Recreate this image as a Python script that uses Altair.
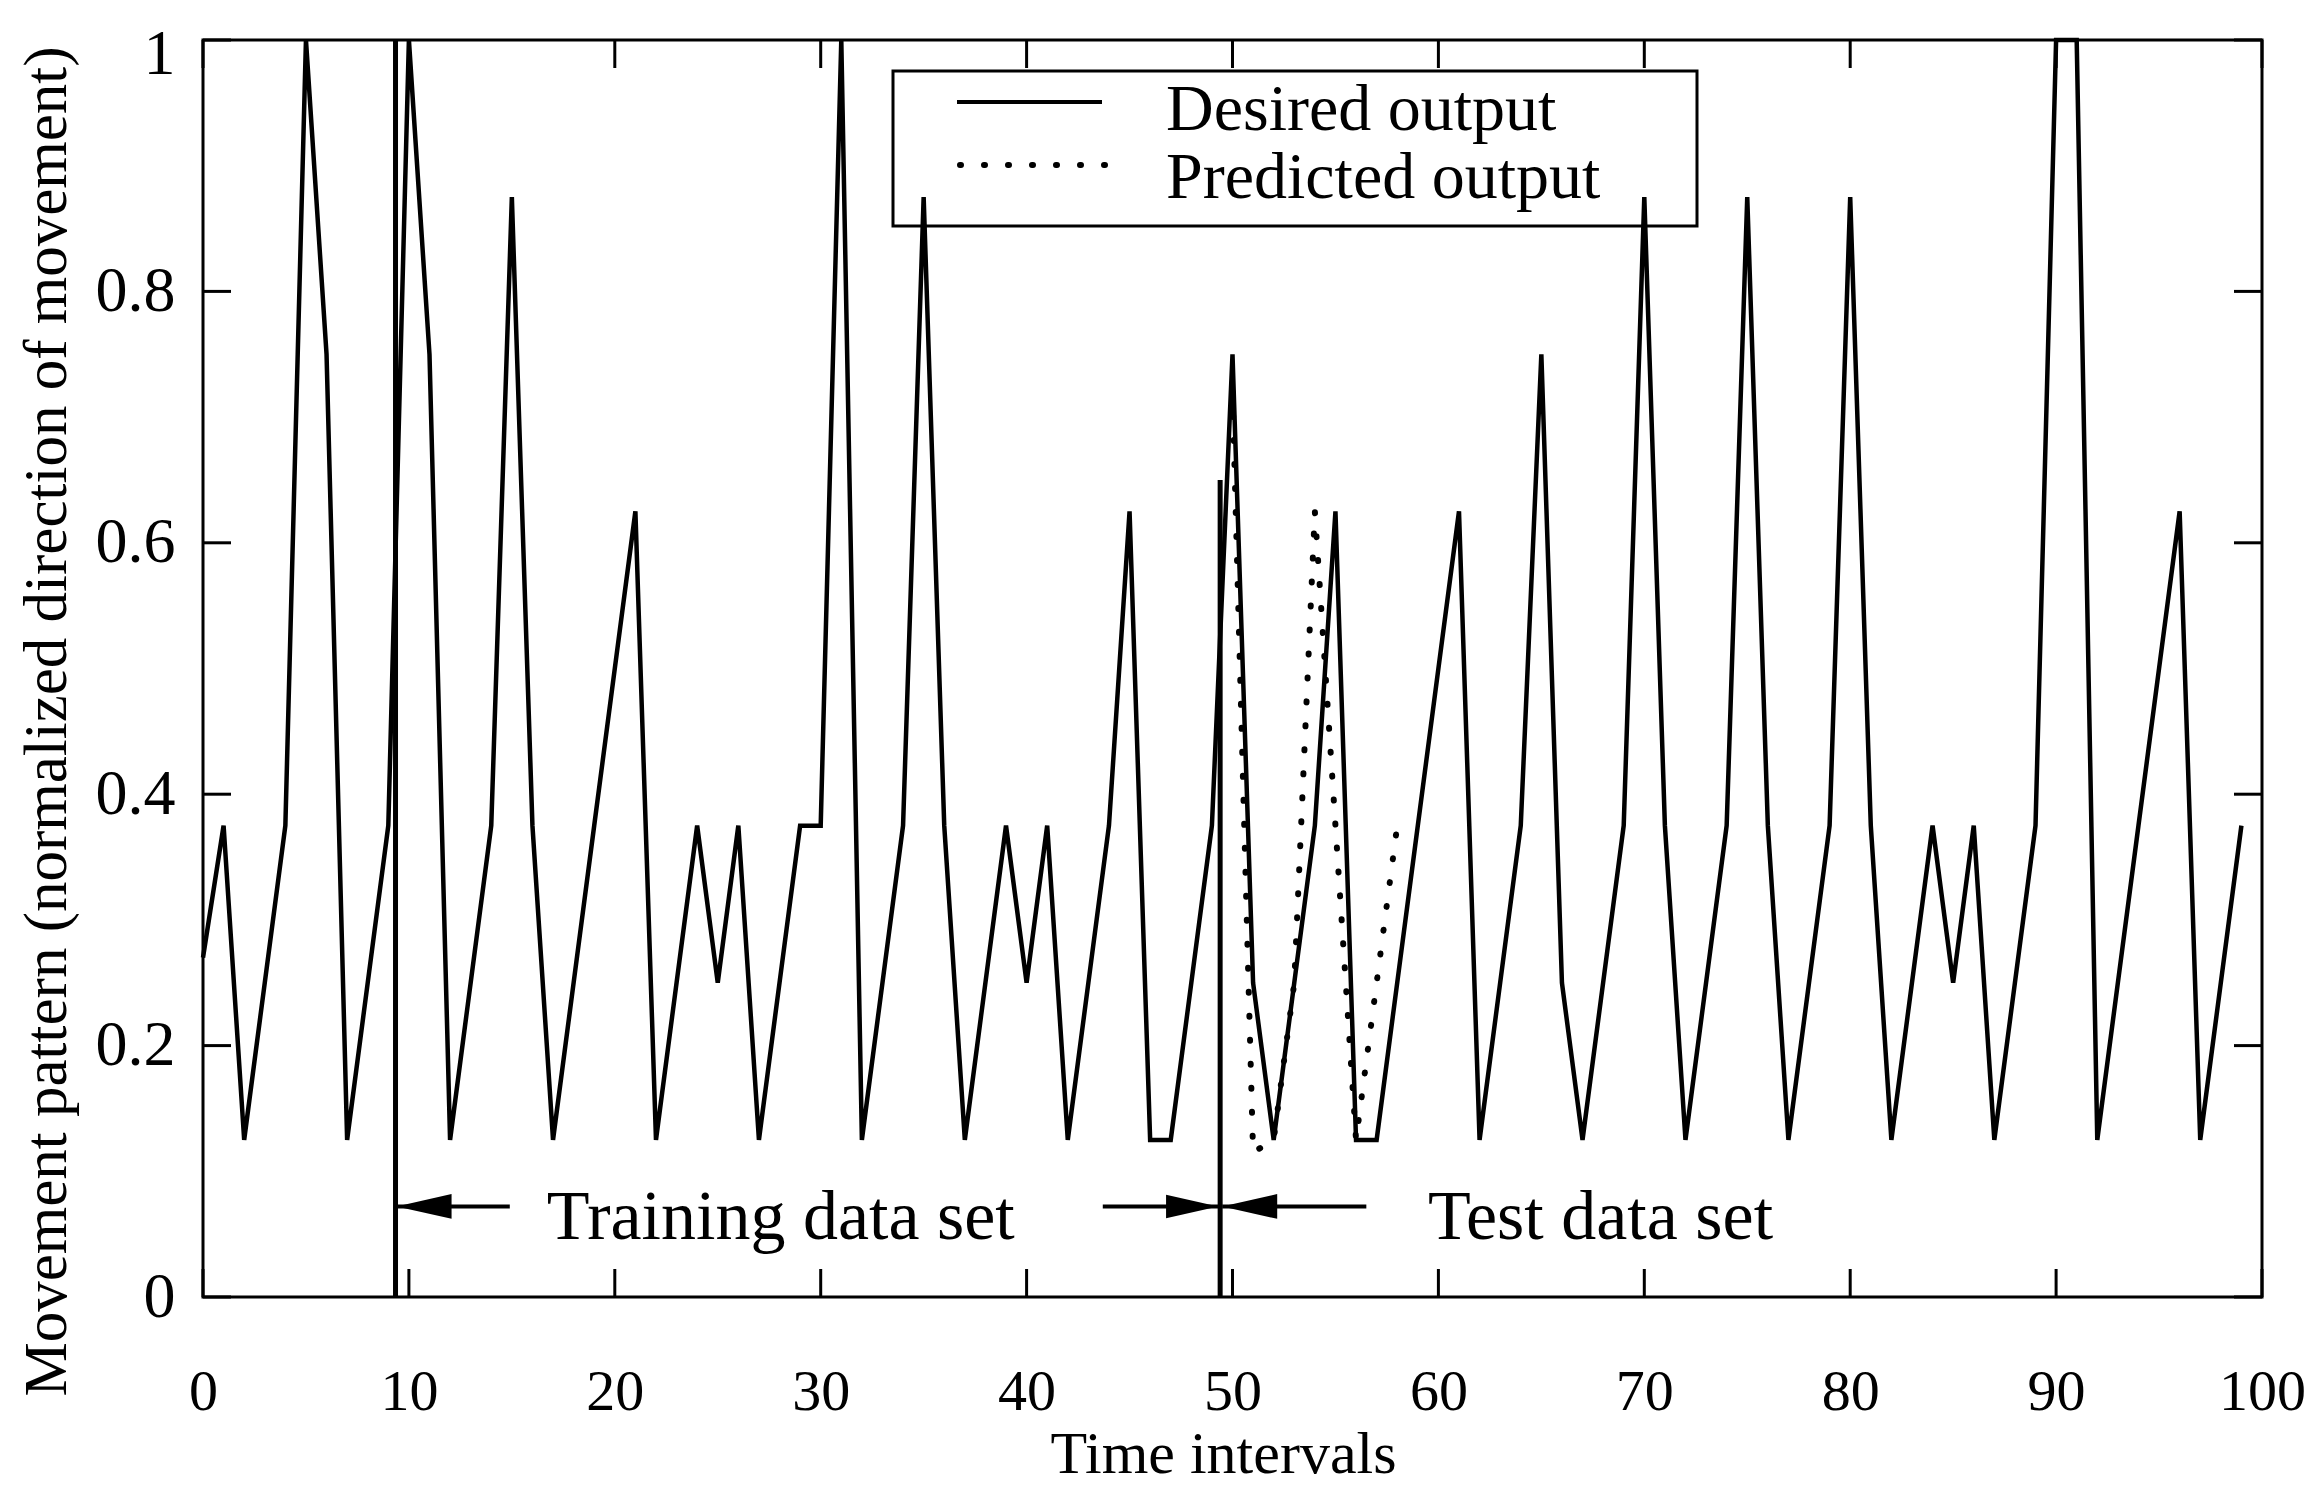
import altair as alt
import pandas as pd

# ---------------- data ----------------
time_desired = list(range(100))
desired = [
    0.27, 0.375, 0.125, 0.25, 0.375, 1.0, 0.75, 0.125, 0.25, 0.375,
    1.0, 0.75, 0.125, 0.25, 0.375, 0.875, 0.375, 0.125, 0.25, 0.375,
    0.5, 0.625, 0.125, 0.25, 0.375, 0.25, 0.375, 0.125, 0.25, 0.375,
    0.375, 1.0, 0.125, 0.25, 0.375, 0.875, 0.375, 0.125, 0.25, 0.375,
    0.25, 0.375, 0.125, 0.25, 0.375, 0.625, 0.125, 0.125, 0.25, 0.375,
    0.75, 0.25, 0.125, 0.25, 0.375, 0.625, 0.125, 0.125, 0.25, 0.375,
    0.5, 0.625, 0.125, 0.25, 0.375, 0.75, 0.25, 0.125, 0.25, 0.375,
    0.875, 0.375, 0.125, 0.25, 0.375, 0.875, 0.375, 0.125, 0.25, 0.375,
    0.875, 0.375, 0.125, 0.25, 0.375, 0.25, 0.375, 0.125, 0.25, 0.375,
    1.0, 1.0, 0.125, 0.25, 0.375, 0.5, 0.625, 0.125, 0.25, 0.375,
]

time_predicted = [50, 51, 52, 53, 54, 55, 56, 57, 58]
predicted = [0.72, 0.115, 0.125, 0.25, 0.625, 0.375, 0.125, 0.25, 0.375]

x_ticks = [0, 10, 20, 30, 40, 50, 60, 70, 80, 90, 100]
y_ticks = [0, 0.2, 0.4, 0.6, 0.8, 1.0]

separator_x = [9.35, 49.4]
separator_top = [1.0, 0.65]

arrow_tip = [9.4, 49.3, 49.5]
arrow_tail = [14.9, 43.7, 56.5]
arrow_dir = ["left", "right", "left"]
arrow_level = 0.072

annotation_text = ["Training data set", "Test data set"]
annotation_x = [16.7, 59.5]
annotation_y = [0.046, 0.046]

legend_labels = ["Desired output", "Predicted output"]

# ---------------- layout / style ----------------
W, H = 2059, 1257
FONT = "Liberation Serif"
TICK = 28

df_d = pd.DataFrame({"t": time_desired, "v": desired})
df_p = pd.DataFrame({"t": time_predicted, "v": predicted})
df_xt = pd.DataFrame({"t": x_ticks})
df_yt = pd.DataFrame({"v": y_ticks})
df_sep = pd.DataFrame({"t": separator_x, "v0": [0.0] * len(separator_x), "v1": separator_top})
df_arr = pd.DataFrame({"tip": arrow_tip, "tail": arrow_tail, "dir": arrow_dir,
                       "v": [arrow_level] * len(arrow_tip)})
df_ann = pd.DataFrame({"t": annotation_x, "v": annotation_y, "label": annotation_text})
one = pd.DataFrame({"a": [0]})

xs = alt.Scale(domain=[0, 100], nice=False, zero=False)
ys = alt.Scale(domain=[0, 1], nice=False, zero=False)

x_axis = alt.Axis(values=x_ticks, format="d", ticks=False, tickSize=0, domain=False, grid=False,
                  labelFont=FONT, labelFontSize=58, labelPadding=66, labelColor="black",
                  labelFlush=False, labelOverlap=False,
                  title="Time intervals", titleFont=FONT, titleFontSize=60,
                  titleFontWeight="normal", titleColor="black", titleBaseline="alphabetic",
                  titleAlign="center", titleX=1020, titleY=175)
y_axis = alt.Axis(values=y_ticks, format=".1~f", ticks=False, tickSize=0, domain=False, grid=False,
                  labelFont=FONT, labelFontSize=64, labelPadding=28, labelColor="black",
                  labelFlush=False, labelOverlap=False,
                  labelOffset={"condition": {"test": "datum.value >= 1", "value": 14}, "value": 0},
                  title="Movement pattern (normalized direction of movement)",
                  titleFont=FONT, titleFontSize=61, titleFontWeight="normal", titleColor="black",
                  titleAngle=270, titleBaseline="alphabetic", titleAlign="center",
                  titleX=-138, titleY=681)


def X(field):
    return alt.X(field, scale=xs, axis=x_axis)


def Y(field):
    return alt.Y(field, scale=ys, axis=y_axis)


desired_line = alt.Chart(df_d).mark_line(color="black", strokeWidth=4.5).encode(
    x=X("t:Q"), y=Y("v:Q"))

predicted_line = alt.Chart(df_p).mark_line(
    color="black", strokeWidth=6, strokeDash=[1, 23], strokeCap="round"
).encode(x=X("t:Q"), y=Y("v:Q"))

separators = alt.Chart(df_sep).mark_rule(color="black", strokeWidth=5).encode(
    x=X("t:Q"), y=Y("v0:Q"), y2="v1:Q")

shafts = alt.Chart(df_arr).mark_rule(color="black", strokeWidth=4).encode(
    x=X("tip:Q"), x2="tail:Q", y=Y("v:Q"))

heads_left = alt.Chart(df_arr).transform_filter(alt.datum.dir == "left").mark_point(
    shape="M0,0L2,-0.45L2,0.45Z", filled=True, color="black", opacity=1, size=3025, strokeWidth=0
).encode(x=X("tip:Q"), y=Y("v:Q"))
heads_right = alt.Chart(df_arr).transform_filter(alt.datum.dir == "right").mark_point(
    shape="M0,0L-2,-0.45L-2,0.45Z", filled=True, color="black", opacity=1, size=2704, strokeWidth=0
).encode(x=X("tip:Q"), y=Y("v:Q"))

annotations = alt.Chart(df_ann).mark_text(
    align="left", baseline="alphabetic", font=FONT, fontSize=70, color="black"
).encode(x=X("t:Q"), y=Y("v:Q"), text="label:N")

# inward ticks on all four sides
ticks_bottom = alt.Chart(df_xt).mark_rule(color="black", strokeWidth=3).encode(
    x=X("t:Q"), y=alt.value(H), y2=alt.value(H - TICK))
ticks_top = alt.Chart(df_xt).mark_rule(color="black", strokeWidth=3).encode(
    x=X("t:Q"), y=alt.value(0), y2=alt.value(TICK))
ticks_left = alt.Chart(df_yt).mark_rule(color="black", strokeWidth=3).encode(
    y=Y("v:Q"), x=alt.value(0), x2=alt.value(TICK))
ticks_right = alt.Chart(df_yt).mark_rule(color="black", strokeWidth=3).encode(
    y=Y("v:Q"), x=alt.value(W - TICK), x2=alt.value(W))

# legend box (drawn by hand)
legend_box = alt.Chart(one).mark_rect(fill=None, stroke="black", strokeWidth=3).encode(
    x=alt.value(690), x2=alt.value(1494), y=alt.value(31), y2=alt.value(186))
legend_solid = alt.Chart(one).mark_rule(color="black", strokeWidth=4).encode(
    x=alt.value(754), x2=alt.value(899), y=alt.value(62))
legend_dotted = alt.Chart(one).mark_rule(
    color="black", strokeWidth=6, strokeDash=[1, 23], strokeCap="round").encode(
    x=alt.value(757), x2=alt.value(902), y=alt.value(125))
legend_text1 = alt.Chart(one).mark_text(
    align="left", baseline="alphabetic", font=FONT, fontSize=66, color="black").encode(
    x=alt.value(963), y=alt.value(90), text=alt.value(legend_labels[0]))
legend_text2 = alt.Chart(one).mark_text(
    align="left", baseline="alphabetic", font=FONT, fontSize=66, color="black").encode(
    x=alt.value(963), y=alt.value(158), text=alt.value(legend_labels[1]))

chart = alt.layer(
    desired_line, predicted_line, separators, shafts, heads_left, heads_right, annotations,
    ticks_bottom, ticks_top, ticks_left, ticks_right,
    legend_box, legend_solid, legend_dotted, legend_text1, legend_text2,
).properties(
    width=W, height=H,
    padding={"left": 195, "top": 32, "right": 50, "bottom": 189},
    autosize="none",
    background="white",
).configure_view(
    stroke="black", strokeWidth=3,
)

chart.save("out.html", embed_options={"renderer": "svg", "actions": False})
